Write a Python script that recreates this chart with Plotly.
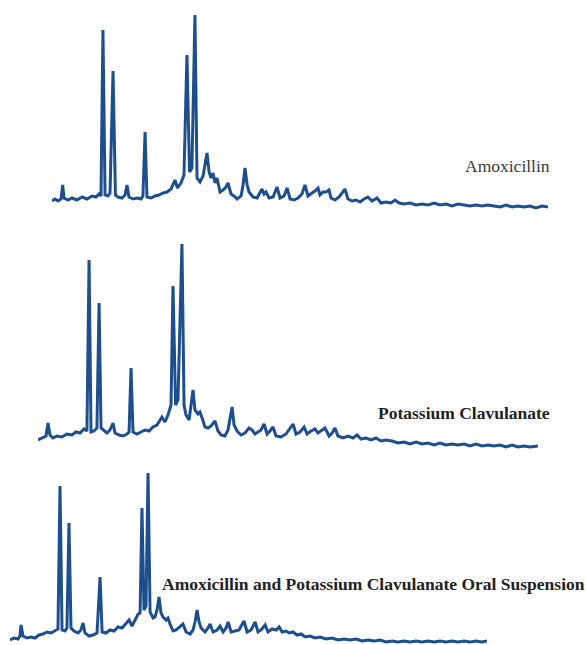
import plotly.graph_objects as go

# Powder X-ray diffraction patterns (2-theta in degrees, intensity in a.u.)

amox_2theta = [5.00, 5.20, 5.40, 5.60, 5.71, 5.80, 6.06, 6.33, 6.66, 7.00, 7.33, 7.66, 7.93, 8.13, 8.26,
               8.39, 8.53, 8.73, 8.86, 9.06, 9.22, 9.39, 9.66, 9.86, 9.99, 10.12, 10.39, 10.66, 10.92, 11.05,
               11.19, 11.32, 11.59, 11.85, 12.12, 12.39, 12.65, 12.92, 13.18, 13.35, 13.58, 13.78, 13.98, 14.15, 14.31,
               14.51, 14.65, 14.85, 15.05, 15.31, 15.45, 15.58, 15.71, 15.85, 15.98, 16.18, 16.38, 16.58, 16.71, 16.91,
               17.11, 17.31, 17.58, 17.71, 17.84, 17.98, 18.11, 18.37, 18.64, 18.84, 18.97, 19.11, 19.24, 19.44, 19.71,
               19.97, 20.17, 20.44, 20.64, 20.84, 21.10, 21.37, 21.63, 21.83, 22.03, 22.30, 22.50, 22.70, 22.83, 23.03,
               23.23, 23.43, 23.56, 23.83, 24.10, 24.30, 24.49, 24.69, 24.96, 25.23, 25.49, 25.76, 26.02, 26.29, 26.62,
               26.89, 27.22, 27.55, 27.82, 28.09, 28.42, 28.82, 29.22, 29.62, 30.02, 30.42, 30.82, 31.21, 31.61, 32.01,
               32.41, 32.81, 33.21, 33.61, 34.01, 34.41, 34.81, 35.21, 35.61, 36.00, 36.40, 36.80, 37.20, 37.60, 38.00]
amox_intensity = [11, 13, 11, 13, 27, 14, 12, 14, 12, 15, 13, 16, 15, 18, 16,
                  182, 17, 16, 19, 141, 17, 15, 14, 17, 27, 15, 13, 14, 13, 16,
                  80, 15, 14, 16, 17, 19, 20, 23, 32, 24, 29, 37, 157, 40, 44,
                  197, 34, 30, 36, 59, 40, 34, 39, 29, 34, 20, 22, 25, 29, 18,
                  16, 13, 16, 27, 44, 27, 20, 15, 14, 19, 23, 18, 20, 14, 15,
                  25, 14, 16, 24, 13, 12, 14, 18, 27, 16, 19, 21, 24, 17, 20,
                  20, 22, 14, 12, 15, 19, 23, 13, 11, 12, 10, 13, 15, 11, 14,
                  9, 10, 9, 12, 9, 8, 9, 7, 8, 7, 9, 7, 8, 6, 8,
                  7, 6, 7, 6, 7, 6, 5, 7, 5, 6, 5, 6, 4, 6, 5]

clav_2theta = [5.00, 5.33, 5.53, 5.66, 5.79, 5.99, 6.25, 6.58, 6.91, 7.24, 7.51, 7.77, 8.04, 8.23, 8.37,
               8.50, 8.70, 8.89, 9.03, 9.16, 9.36, 9.55, 9.75, 9.95, 10.08, 10.35, 10.61, 10.87, 11.01, 11.14,
               11.27, 11.53, 11.80, 12.06, 12.33, 12.59, 12.85, 13.05, 13.18, 13.38, 13.58, 13.78, 13.91, 14.08, 14.24,
               14.50, 14.64, 14.77, 14.97, 15.23, 15.36, 15.56, 15.69, 15.83, 16.02, 16.22, 16.42, 16.68, 16.88, 17.08,
               17.34, 17.54, 17.81, 17.94, 18.14, 18.40, 18.66, 18.93, 19.13, 19.32, 19.52, 19.72, 19.92, 20.12, 20.31,
               20.51, 20.71, 21.04, 21.37, 21.63, 21.83, 22.03, 22.29, 22.56, 22.76, 23.02, 23.28, 23.48, 23.75, 23.94,
               24.21, 24.41, 24.60, 24.80, 25.13, 25.46, 25.79, 26.06, 26.32, 26.65, 26.98, 27.31, 27.64, 27.97, 28.37,
               28.76, 29.16, 29.55, 29.95, 30.35, 30.74, 31.14, 31.53, 31.93, 32.33, 32.72, 33.12, 33.51, 33.91, 34.31,
               34.70, 35.10, 35.50, 35.89, 36.29, 36.68, 37.08, 37.48, 38.00]
clav_intensity = [10, 13, 14, 27, 15, 12, 14, 13, 16, 15, 18, 17, 21, 19, 190,
                  18, 19, 22, 147, 22, 19, 17, 20, 27, 17, 15, 14, 16, 18, 82,
                  18, 16, 18, 20, 19, 23, 25, 30, 33, 28, 35, 45, 164, 45, 50,
                  206, 45, 35, 30, 60, 40, 36, 38, 32, 23, 22, 24, 29, 19, 15,
                  14, 20, 43, 25, 19, 15, 17, 22, 20, 16, 18, 20, 26, 16, 19,
                  23, 14, 13, 16, 22, 26, 16, 18, 23, 16, 19, 21, 17, 20, 22,
                  14, 17, 22, 14, 12, 14, 12, 15, 11, 12, 10, 12, 9, 10, 9,
                  7, 8, 6, 8, 6, 7, 5, 7, 5, 6, 5, 6, 4, 6, 4,
                  5, 4, 5, 3, 5, 3, 4, 3, 4]

susp_2theta = [5.00, 5.28, 5.55, 5.69, 5.76, 5.90, 6.18, 6.45, 6.73, 7.01, 7.28, 7.56, 7.84, 8.11, 8.32,
               8.46, 8.60, 8.81, 8.94, 9.08, 9.22, 9.43, 9.71, 9.91, 10.05, 10.19, 10.47, 10.74, 11.02, 11.23,
               11.37, 11.64, 11.92, 12.20, 12.47, 12.75, 13.03, 13.24, 13.44, 13.65, 13.86, 14.00, 14.13, 14.27, 14.41,
               14.55, 14.69, 14.90, 15.03, 15.17, 15.31, 15.45, 15.59, 15.80, 15.93, 16.07, 16.28, 16.49, 16.76, 16.97,
               17.18, 17.46, 17.66, 17.80, 17.94, 18.08, 18.22, 18.49, 18.70, 18.84, 19.05, 19.33, 19.53, 19.74, 19.95,
               20.09, 20.30, 20.57, 20.85, 20.99, 21.19, 21.40, 21.68, 21.96, 22.16, 22.37, 22.65, 22.85, 23.13, 23.41,
               23.62, 23.82, 24.10, 24.31, 24.58, 24.86, 25.14, 25.42, 25.76, 26.11, 26.45, 26.87, 27.28, 27.70, 28.11,
               28.53, 28.94, 29.36, 29.78, 30.19, 30.61, 31.02, 31.44, 31.85, 32.27, 32.68, 33.10, 33.51, 33.93, 34.34,
               34.76, 35.17, 35.59, 36.00, 36.42, 36.83, 37.25, 37.60, 38.00]
susp_intensity = [5, 7, 6, 9, 20, 9, 7, 8, 7, 10, 11, 13, 12, 14, 16,
                  159, 15, 14, 17, 122, 17, 14, 12, 15, 22, 12, 9, 10, 12, 68,
                  13, 12, 15, 14, 18, 17, 21, 25, 19, 25, 31, 32, 137, 35, 39,
                  172, 33, 27, 28, 35, 48, 32, 28, 25, 27, 21, 14, 15, 18, 21,
                  13, 11, 15, 23, 35, 23, 17, 13, 17, 21, 13, 15, 19, 13, 17,
                  23, 13, 14, 15, 19, 24, 13, 15, 23, 13, 15, 20, 13, 16, 15,
                  18, 13, 14, 12, 13, 10, 11, 8, 9, 7, 8, 6, 7, 5, 6,
                  5, 6, 4, 5, 4, 5, 3, 4, 3, 4, 3, 4, 3, 4, 3,
                  4, 3, 4, 3, 4, 3, 4, 3, 4]

sample_names = ["Amoxicillin", "Potassium Clavulanate",
                "Amoxicillin and Potassium Clavulanate Oral Suspension"]

LINE_COLOR = "#1d4f8e"
LINE_WIDTH = 3
TWO_THETA_RANGE = [5, 38]
LABEL_FONT = "Liberation Serif"

fig = go.Figure()
fig.add_trace(go.Scatter(x=amox_2theta, y=amox_intensity, mode="lines",
                         line=dict(color=LINE_COLOR, width=LINE_WIDTH), xaxis="x", yaxis="y",
                         name=sample_names[0]))
fig.add_trace(go.Scatter(x=clav_2theta, y=clav_intensity, mode="lines",
                         line=dict(color=LINE_COLOR, width=LINE_WIDTH), xaxis="x2", yaxis="y2",
                         name=sample_names[1]))
fig.add_trace(go.Scatter(x=susp_2theta, y=susp_intensity, mode="lines",
                         line=dict(color=LINE_COLOR, width=LINE_WIDTH), xaxis="x3", yaxis="y3",
                         name=sample_names[2]))

hidden = dict(visible=False, showgrid=False, zeroline=False, fixedrange=True)

fig.update_layout(
    width=586, height=645,
    margin=dict(l=0, r=0, t=0, b=0),
    paper_bgcolor="white", plot_bgcolor="rgba(0,0,0,0)",
    showlegend=False,
    xaxis=dict(domain=[52 / 586, 548 / 586], range=TWO_THETA_RANGE, anchor="y", **hidden),
    yaxis=dict(domain=[1 - 212 / 645, 1 - 10 / 645], range=[0, 202], anchor="x", **hidden),
    xaxis2=dict(domain=[38 / 586, 538 / 586], range=TWO_THETA_RANGE, anchor="y2", **hidden),
    yaxis2=dict(domain=[1 - 450 / 645, 1 - 240 / 645], range=[0, 210], anchor="x2", **hidden),
    xaxis3=dict(domain=[10 / 586, 487 / 586], range=TWO_THETA_RANGE, anchor="y3", **hidden),
    yaxis3=dict(domain=[0, 1 - 465 / 645], range=[0, 180], anchor="x3", **hidden),
)

fig.add_annotation(text=sample_names[0], xref="paper", yref="paper",
                   x=463 / 586, y=1 - 166 / 645, xanchor="left", yanchor="middle",
                   showarrow=False,
                   font=dict(family=LABEL_FONT, size=17.5, color="#3a3a3a"))
fig.add_annotation(text="<b>" + sample_names[1] + "</b>", xref="paper", yref="paper",
                   x=376 / 586, y=1 - 413 / 645, xanchor="left", yanchor="middle",
                   showarrow=False,
                   font=dict(family=LABEL_FONT, size=17.5, color="#222222"))
fig.add_annotation(text="<b>" + sample_names[2] + "</b>", xref="paper", yref="paper",
                   x=160 / 586, y=1 - 584 / 645, xanchor="left", yanchor="middle",
                   showarrow=False,
                   font=dict(family=LABEL_FONT, size=17.5, color="#222222"))

fig.write_html("out.html")
